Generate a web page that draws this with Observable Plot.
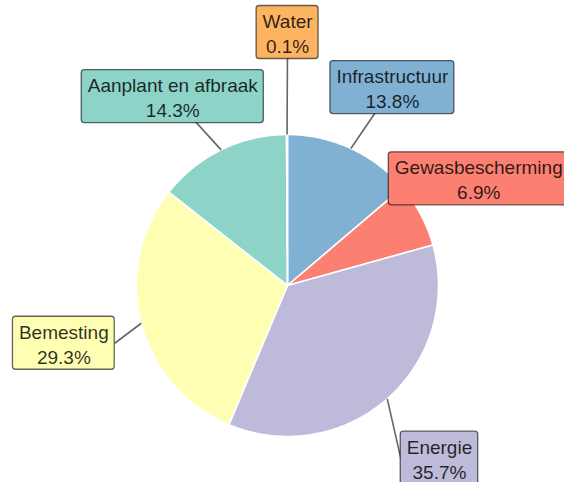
<!DOCTYPE html>
<html>
<head>
<meta charset="utf-8">
<script src="https://cdn.jsdelivr.net/npm/d3@7"></script>
<script src="https://cdn.jsdelivr.net/npm/@observablehq/plot@0.6"></script>
<style>
  html, body { margin: 0; padding: 0; background: #fff; }
  #chart svg { display: block; }
</style>
</head>
<body>
<div id="chart"></div>
<script>
// Data (clockwise from 12 o'clock)
const labels = ["Infrastructuur", "Gewasbescherming", "Energie", "Bemesting", "Aanplant en afbraak", "Water"];
const values = [13.8, 6.9, 35.7, 29.3, 14.3, 0.1];
const colors = ["#80b1d3", "#fb8072", "#bebada", "#ffffb3", "#8dd3c7", "#fdb462"];

// Layout (label placement along slice mid-angle)
const labelDist = [224, 219, 230, 231, 221, 253];
const labelShift = [3.1, -1.2, 0, 0, -5.2, 0.2];

const W = 564, H = 482;
const cx = 287, cy = 285, R = 151;
const fontSize = 19, lineH = 25;
const FONT = "Liberation Sans, Arial, Helvetica, sans-serif";

const rad = Math.PI / 180;
const pt = (a, r) => [cx + r * Math.sin(a * rad), cy - r * Math.cos(a * rad)];

const total = d3.sum(values);
let acc = 0;
const slices = values.map((v, i) => {
  const a0 = acc / total * 360;
  acc += v;
  const a1 = acc / total * 360;
  return {label: labels[i], value: v, a0, a1, mid: (a0 + a1) / 2, i};
});

// polygon points for slices
const polyPts = [];
for (const s of slices) {
  polyPts.push({label: s.label, x: cx, y: cy});
  const n = Math.max(2, Math.ceil((s.a1 - s.a0) / 0.5));
  for (let k = 0; k <= n; k++) {
    const a = s.a0 + (s.a1 - s.a0) * k / n;
    const [x, y] = pt(a, R);
    polyPts.push({label: s.label, x, y});
  }
}

// text measurement
const ctx = document.createElement("canvas").getContext("2d");
ctx.font = `${fontSize}px ${FONT}`;

const boxes = slices.map(s => {
  const txt = `${s.label}\n${s.value.toFixed(1)}%`;
  const w = Math.max(ctx.measureText(s.label).width, ctx.measureText(s.value.toFixed(1) + "%").width) + 12;
  const h = 53;
  const [bx, by] = pt(s.mid + labelShift[s.i], labelDist[s.i]);
  const [px, py] = pt(s.mid, R);
  const x1 = bx - w / 2, x2 = bx + w / 2, y1 = by - h / 2, y2 = by + h / 2;
  let tx = bx, ty = by;
  if (px < x1) { tx = x1; }
  else if (px > x2) { tx = x2; }
  // gap between slice edge point and box
  const gx = Math.max(x1 - px, 0, px - x2), gy = Math.max(y1 - py, 0, py - y2);
  const gap = Math.hypot(gx, gy);
  return {label: s.label, txt, bx, by, x1, x2, y1, y2, px, py, tx, ty, gap};
});
const links = boxes.filter(b => b.gap > 12);

const chart = Plot.plot({
  width: W,
  height: H,
  margin: 0,
  x: {domain: [0, W], range: [0, W], axis: null},
  y: {domain: [0, H], range: [0, H], axis: null},
  color: {domain: labels, range: colors},
  style: {fontFamily: FONT, background: "#fff"},
  marks: [
    Plot.line(polyPts, {x: "x", y: "y", z: "label", fill: "label", stroke: "white", strokeWidth: 1.6, curve: "linear-closed", strokeLinejoin: "round"}),
    Plot.link(links, {x1: "px", y1: "py", x2: "tx", y2: "ty", stroke: "#666", strokeWidth: 1.6}),
    Plot.rect(boxes, {x1: "x1", x2: "x2", y1: "y1", y2: "y2", fill: "label", stroke: "#000", strokeOpacity: 0.6, strokeWidth: 1.3, rx: 3}),
    Plot.text(boxes, {x: "bx", y: "by", text: "txt", fontSize: fontSize, lineHeight: lineH / fontSize, fill: "#000", fillOpacity: 0.82, textAnchor: "middle", lineAnchor: "middle"})
  ]
});
document.getElementById("chart").appendChild(chart);
</script>
</body>
</html>
